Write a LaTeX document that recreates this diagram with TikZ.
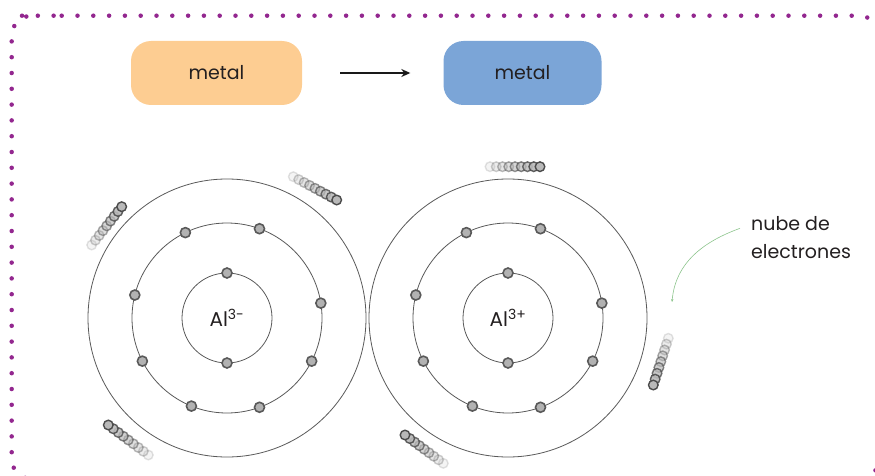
\documentclass[tikz,border=0pt]{standalone}
\usepackage{fontspec}
\setmainfont{Poppins}
\usetikzlibrary{arrows.meta,calc,positioning}
\definecolor{peach}{HTML}{FDCD92}
\definecolor{steel}{HTML}{7BA5D7}
\definecolor{plum}{HTML}{93278F}
\definecolor{ink}{HTML}{231F20}
\definecolor{leaf}{HTML}{8CC48C}

\begin{document}
\begin{tikzpicture}[
    x=1pt, y=1pt,
    every node/.style={text=ink},
    metal box/.style={rounded corners=20pt, minimum height=64pt, inner sep=0pt,
      font=\fontsize{19}{22}\selectfont},
    shell/.style={draw=black!65, line width=0.8pt},
    electron/.style={circle, draw=black!65, fill=gray!60, line width=1.6pt,
      minimum size=10pt, inner sep=0pt},
    blob/.style={draw=black!70, fill=gray!55, line width=1.4pt},
    ion/.style={font=\fontsize{20}{24}\selectfont},
    dotline/.style={draw=plum, line width=4.5pt, line cap=round,
      dash pattern=on 0pt off 15.8pt}
  ]
  \useasboundingbox (0,0) rectangle (875,475);
  \clip (0,0) rectangle (875,475);

  % dotted frame
  \draw[dotline, rounded corners=20pt]
    (41.7,459.3) -- (879,459.3) -- (879,-4) -- (11.7,-4) -- (11.7,459.3) -- cycle;

  % top row
  \node[metal box, fill=peach, minimum width=171pt] (m1) at (216.5,402) {metal};
  \node[metal box, fill=steel, minimum width=158pt] (m2) at (522.5,402) {metal};
  \draw[-{Stealth[length=9pt,width=8pt]}, line width=1.4pt, black!90,
    shorten <=38pt, shorten >=33pt] (m1) -- (m2);

  % atom centres
  \coordinate (L) at (227,157);
  \coordinate (R) at (508,157);

  % shells
  \foreach \c in {L,R} {
    \foreach \r in {45,95,139}
      \draw[shell] (\c) circle[radius=\r];
    \node[electron] (e-\c-in1) at ($(\c)+(90:45)$) {};
    \node[electron] (e-\c-in2) at ($(\c)+(270:45)$) {};
    \foreach \a in {9,70,116,166,207,248,290,333}
      \node[electron] (e-\c-\a) at ($(\c)+(\a:95)$) {};
  }

  \node[ion] (ionL) at (L) {Al\textsuperscript{3-}};
  \node[ion] (ionR) at (R) {Al\textsuperscript{3+}};

  % electron cloud streaks (dark end first)
  \foreach \ax/\ay/\bx/\by in {
      121.7/268.3/91.7/230, 336.7/275/293.3/298.3, 108.3/50/148.3/20,
      540/308.3/490/308.3, 653.3/90/668.3/136.7, 405/40/443.3/11.7} {
    \foreach \i in {8,7,...,0} {
      \pgfmathsetmacro\op{1-\i*0.105}
      \draw[blob, opacity=\op] ($(\ax,\ay)!\i/8!(\bx,\by)$) circle[radius=4.8];
    }
  }

  % label
  \node[anchor=north west, align=left, inner sep=0pt,
    font=\fontsize{19}{28}\selectfont] (cloud) at (751,259) {nube de\\electrones};
  \coordinate (cloud tip) at (672,173);
  \draw[leaf, line width=0.6pt, -{Stealth[length=3pt,width=2.5pt]}]
    ([shift={(-11pt,9pt)}]cloud.west) to[out=200, in=85] (cloud tip);
\end{tikzpicture}
\end{document}
